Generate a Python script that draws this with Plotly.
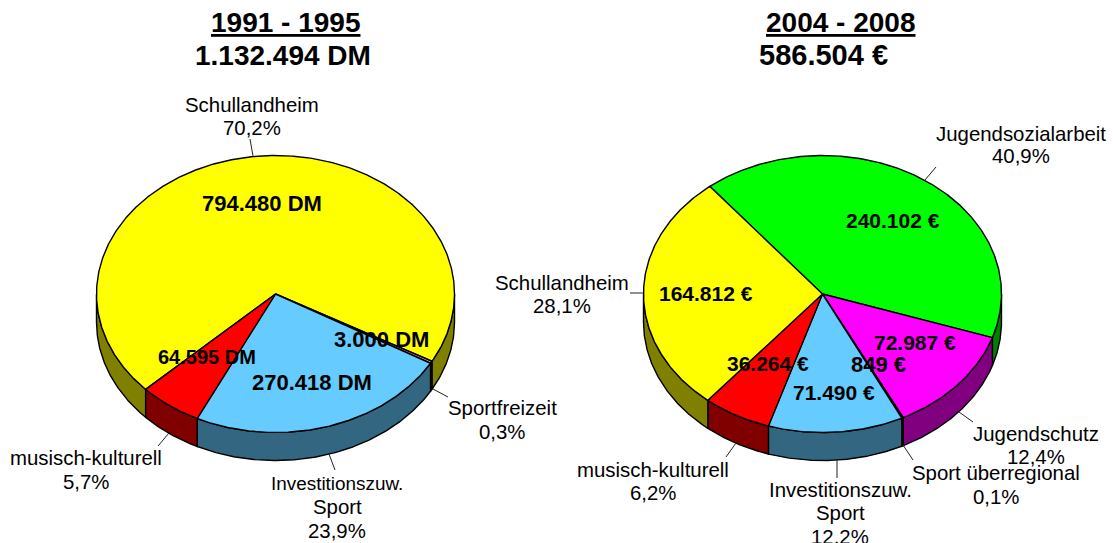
import numpy as np
import plotly.graph_objects as go

# ---- data ----
left_names = ["Schullandheim", "Sportfreizeit", "Investitionszuw.\nSport", "musisch-kulturell"]
left_values = [794480, 3000, 270418, 64595]
left_unit = "DM"
left_title = "1991 - 1995"
left_total = "1.132.494 DM"

right_names = ["Jugendsozialarbeit", "Jugendschutz", "Sport überregional",
               "Investitionszuw.\nSport", "musisch-kulturell", "Schullandheim"]
right_values = [240102, 72987, 849, 71490, 36264, 164812]
right_unit = "€"
right_title = "2004 - 2008"
right_total = "586.504 €"

# ---- styles ----
left_colors = ["#FFFF00", "#FF99CC", "#66CCFF", "#FF0000"]
left_sides = ["#808000", "#804D66", "#336680", "#800000"]
right_colors = ["#00FF00", "#FF00FF", "#FF99CC", "#66CCFF", "#FF0000", "#FFFF00"]
right_sides = ["#008000", "#800080", "#804D66", "#336680", "#800000", "#808000"]

FONT = "Liberation Sans, Arial, sans-serif"
RX, RY, DEPTH = 179, 138.5, 28
LEFT_GEOM = dict(cx=275.5, cy=294, start=223.5)
RIGHT_GEOM = dict(cx=822.5, cy=294, start=129.0)

left_label_pos = [(252, [105, 128]), (502, [408, 432]), (337, [483, 507, 531]), (86, [458, 482])]
right_label_pos = [(1021, [134, 156]), (1036, [434, 457]), (996, [473, 497]),
                   (840, [490, 513, 537]), (653, [470, 493]), (562, [283, 306])]
left_value_pos = [(262, 203), (381, 339), (312, 382), (207, 357)]
right_value_pos = [(893, 220), (706, 293), (915, 342), (878, 364), (834, 392), (768, 363)]
right_value_pos = [(893, 220), (915, 342), (878, 364), (834, 392), (768, 363), (706, 293)]
left_value_sizes = [22, 22, 22, 20]
right_value_sizes = [21, 21, 22, 21, 21, 21]
left_first_line_sizes = [20.4, 20.4, 18.9, 20.4]
right_first_line_sizes = [20.4, 20.4, 20.4, 20.4, 20.4, 20.4]

left_leaders = [((253, 156), (250, 139)), ((433, 389), (448, 397)),
                ((329, 454), (335, 470)), ((169, 433), (158, 446))]
right_leaders = [((925, 180), (936, 167)), ((959, 412), (973, 422)), ((903, 445), (913, 460)),
                 ((837, 460), (837, 478)), ((736, 443), (726, 457)), ((643, 293), (630, 293))]

fig = go.Figure()


def arc(cx, cy, a0, a1, dy=0):
    n = max(2, int(abs(a1 - a0) * 2) + 2)
    t = np.radians(np.linspace(a0, a1, n))
    return cx + RX * np.cos(t), cy + dy + RY * np.sin(-t)


def add_poly(xs, ys, color):
    fig.add_trace(go.Scatter(x=list(xs), y=list(ys), mode="lines", fill="toself",
                             fillcolor=color, line=dict(color="black", width=1.4),
                             hoverinfo="skip", showlegend=False))


def draw_pie(values, colors, sides, geom):
    cx, cy, start = geom["cx"], geom["cy"], geom["start"]
    total = sum(values)
    spans = []
    a = start
    for v in values:
        b = a - v / total * 360
        spans.append((a, b))
        a = b
    # rim first
    for (a, b), col in zip(spans, sides):
        for shift in (0, 360, -360):
            hi = min(a + shift, 360)
            lo = max(b + shift, 180)
            if hi > lo:
                x1, y1 = arc(cx, cy, hi, lo)
                x2, y2 = arc(cx, cy, lo, hi, DEPTH)
                add_poly(np.r_[x1, x2, x1[0]], np.r_[y1, y2, y1[0]], col)
    # top faces
    for (a, b), col in zip(spans, colors):
        x, y = arc(cx, cy, a, b)
        add_poly(np.r_[cx, x, cx], np.r_[cy, y, cy], col)


def text(x, y, s, size, bold=False):
    fig.add_annotation(x=x, y=y, text=f"<b>{s}</b>" if bold else s, showarrow=False,
                       xanchor="center", yanchor="middle", xref="x", yref="y",
                       font=dict(family=FONT, size=size, color="black"))


def labels(names, values, unit, label_pos, value_pos, leaders, value_sizes, first_sizes):
    total = sum(values)
    for name, v, (lx, lys), (vx, vy), (p, q), vs, fs in zip(
            names, values, label_pos, value_pos, leaders, value_sizes, first_sizes):
        pct = f"{v / total * 100:.1f}".replace(".", ",") + "%"
        for i, (line, ly) in enumerate(zip(name.split("\n") + [pct], lys)):
            text(lx, ly, line, fs if i == 0 else 20.4)
        text(vx, vy, f"{v:,}".replace(",", ".") + " " + unit, vs, bold=True)
        fig.add_shape(type="line", x0=p[0], y0=p[1], x1=q[0], y1=q[1],
                      line=dict(color="#222222", width=1), layer="above")


draw_pie(left_values, left_colors, left_sides, LEFT_GEOM)
draw_pie(right_values, right_colors, right_sides, RIGHT_GEOM)
labels(left_names, left_values, left_unit, left_label_pos, left_value_pos, left_leaders,
       left_value_sizes, left_first_line_sizes)
labels(right_names, right_values, right_unit, right_label_pos, right_value_pos, right_leaders,
       right_value_sizes, right_first_line_sizes)

text(285, 22, f"<u>{left_title}</u>", 28, bold=True)
text(283, 55, left_total, 28, bold=True)
text(840, 22, f"<u>{right_title}</u>", 28, bold=True)
text(823, 55, right_total, 29, bold=True)

fig.update_layout(width=1113, height=543, margin=dict(l=0, r=0, t=0, b=0),
                  paper_bgcolor="white", plot_bgcolor="white", showlegend=False,
                  xaxis=dict(range=[0, 1113], visible=False, fixedrange=True),
                  yaxis=dict(range=[543, 0], visible=False, fixedrange=True))
fig.write_html("out.html", config={"displayModeBar": False},
               post_script="document.body.style.margin='0';document.body.style.overflow='hidden';")
